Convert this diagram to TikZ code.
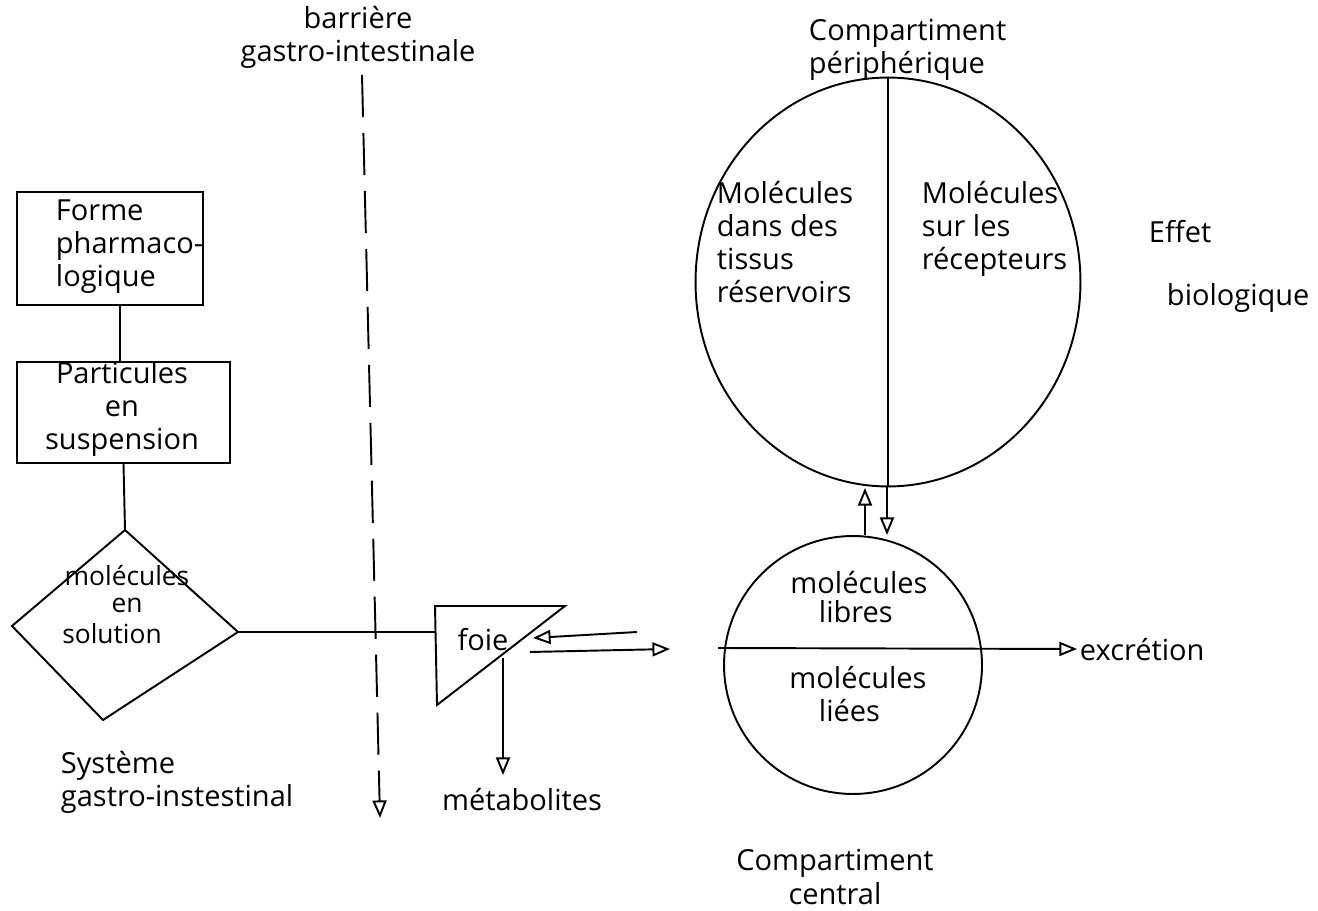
\documentclass[tikz,border=0pt]{standalone}
\usepackage{fontspec}
\setmainfont{Open Sans}
\usetikzlibrary{arrows.meta,shapes.geometric}
\begin{document}
\begin{tikzpicture}[x=0.02cm,y=-0.02cm, line width=1.1pt,
  every node/.style={font=\fontsize{16.5}{18.8}\selectfont, inner sep=0pt},
  small/.style={font=\fontsize{15}{16}\selectfont},
  lbl/.style={align=left},
  lblc/.style={align=center},
  box/.style={draw, line width=1.1pt},
  arr/.style={-{Triangle[open,length=10pt,width=8pt]}},
  barrier/.style={dash pattern=on 24pt off 9pt},
]
\useasboundingbox (0,0) rectangle (1318,911);

% left column
\node[box, minimum width=3.72cm, minimum height=2.26cm] (box1) at (110,248.5) {};
\node[lbl, anchor=west] (t1) at (55,247) {Forme\\pharmaco-\\logique};
\node[box, minimum width=4.26cm, minimum height=2.02cm] (box2) at (123.5,412.5) {};
\node[lblc] (t2) at (122,409) {Particules\\en\\suspension};
\draw ([xshift=0.2cm]box1.south) -- ([xshift=0.2cm]box1.south |- box2.north);

\coordinate (dT) at (125,530);
\coordinate (dR) at (238,632);
\coordinate (dB) at (103,720);
\coordinate (dL) at (12,626);
\draw (dT) -- (dR) -- (dB) -- (dL) -- cycle;
\draw (box2.south) -- (dT);
\node[small] (dm1) at (127,576) {molécules};
\node[small] (dm2) at (127,605) {en};
\node[small] (dm3) at (112,634) {solution};

\node[lbl, anchor=west] (sys) at (60,782) {Système\\gastro-instestinal};

% barrier
\node[lblc] (barr) at (358,37) {barrière\\gastro-intestinale};
\coordinate (bTop) at (362,75);
\coordinate (bBot) at (380,818);
\draw[barrier, arr] (bTop) -- (bBot);

% liver
\coordinate (fTL) at (435,606);
\coordinate (fTR) at (565,606);
\coordinate (fBL) at (437,705);
\draw (fTL) -- (fTR) -- (fBL) -- cycle;
\node (foie) at (483,640) {foie};
\draw (dR) -- (dR -| fTL);

\coordinate (inS) at (637,632);
\coordinate (inE) at (533,638);
\draw[arr] (inS) -- (inE);
\coordinate (outS) at (530,652);
\coordinate (outE) at (670,649);
\draw[arr] (outS) -- (outE);
\coordinate (metS) at (503,658);
\coordinate (metE) at (503,775);
\draw[arr] (metS) -- (metE);
\node (met) at (522,800) {métabolites};

% peripheral compartment
\node[lbl, anchor=west] (cp) at (808,50) {Compartiment\\périphérique};
\node[draw, ellipse, minimum width=7.7cm, minimum height=8.18cm] (big) at (888,282) {};
\draw (big.north) -- (big.south);
\node[lbl, anchor=west] (lt) at (716,242) {Molécules\\dans des\\tissus\\réservoirs};
\node[lbl, anchor=west] (rt) at (921,229) {Molécules\\sur les\\récepteurs};
\node[anchor=west] (eff) at (1148,232) {Effet};
\node[anchor=west] (bio) at (1166,298) {biologique};

% central compartment
\node[draw, circle, minimum size=5.16cm] (small) at (853,665) {};
\coordinate (u1) at (865,535);
\coordinate (u2) at (865,488);
\draw[arr] (u1) -- (u2);
\coordinate (d1) at (887,487);
\coordinate (d2) at (887,535);
\draw[arr] (d1) -- (d2);

\node (ml1) at (859,583) {molécules};
\node[anchor=west] (ml2) at (818,612) {libres};
\node (ml3) at (858,678) {molécules};
\node[anchor=west] (ml4) at (818,711) {liées};

\coordinate (hL) at (718,648);
\coordinate (exc) at (1077,649);
\draw[arr] (hL) -- (exc);
\node[anchor=west] (excr) at (1079,650) {excrétion};

\node[lblc] (cc) at (835,877) {Compartiment\\central};
\end{tikzpicture}
\end{document}
